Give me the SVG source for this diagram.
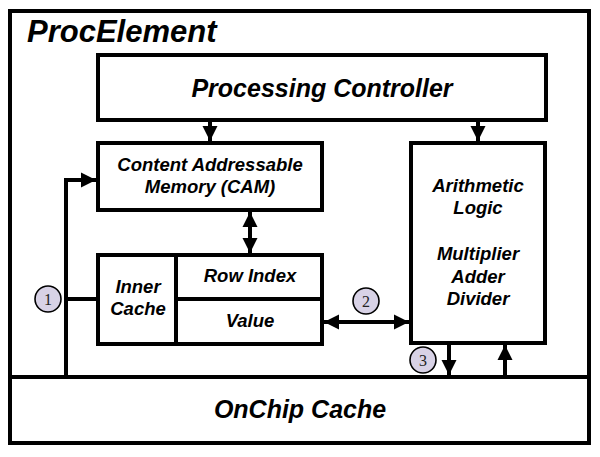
<svg xmlns="http://www.w3.org/2000/svg" width="600" height="457" viewBox="0 0 600 457">
<style>
.box{fill:#fff;stroke:#000;stroke-width:4;stroke-linejoin:miter}
.ln{fill:none;stroke:#000;stroke-width:4}
.t{font-family:"Liberation Sans",Arial,sans-serif;font-weight:bold;font-style:italic;fill:#000;text-anchor:middle}
.s{font-size:18.5px}
.b{font-size:25px}
.c{fill:#d8d2e6;stroke:#000;stroke-width:1.6}
.n{font-family:"Liberation Serif","Times New Roman",serif;font-size:16px;fill:#222;text-anchor:middle}
</style>
<defs>
<marker id="ah" viewBox="0 0 10 10" refX="10" refY="5" markerWidth="3.8" markerHeight="3.8" orient="auto-start-reverse" markerUnits="strokeWidth">
<path d="M0,0 L10,5 L0,10 Z" fill="#000"/>
</marker>
</defs>
<rect width="600" height="457" fill="#fff"/>
<g id="procelement">
<rect class="box" x="10" y="11" width="579" height="432"/>
<text class="t" x="27" y="42" font-size="31" style="text-anchor:start">ProcElement</text>
</g>
<g id="onchip-cache">
<rect class="box" x="10" y="377" width="579" height="66"/>
<text class="t b" x="300" y="418">OnChip Cache</text>
</g>
<g id="processing-controller">
<rect class="box" x="98" y="55" width="448" height="65"/>
<text class="t b" x="322" y="97">Processing Controller</text>
</g>
<g id="cam">
<rect class="box" x="98" y="143" width="224" height="67"/>
<text class="t s" x="210" y="171">Content Addressable</text>
<text class="t s" x="210" y="193">Memory (CAM)</text>
</g>
<g id="alu">
<rect class="box" x="411" y="143" width="134" height="200"/>
<text class="t s" x="478" y="192">Arithmetic</text>
<text class="t s" x="478" y="214">Logic</text>
<text class="t s" x="478" y="260">Multiplier</text>
<text class="t s" x="478" y="283">Adder</text>
<text class="t s" x="478" y="305">Divider</text>
</g>
<g id="inner-cache">
<rect class="box" x="98" y="255" width="224" height="89"/>
<line class="ln" x1="176" y1="255" x2="176" y2="344"/>
<line class="ln" x1="176" y1="299" x2="322" y2="299"/>
<text class="t s" x="138" y="293">Inner</text>
<text class="t s" x="138" y="315">Cache</text>
<text class="t s" x="250" y="282">Row Index</text>
<text class="t s" x="250" y="327">Value</text>
</g>
<g id="connectors">
<line class="ln" x1="210" y1="120" x2="210" y2="141" marker-end="url(#ah)"/>
<line class="ln" x1="478" y1="120" x2="478" y2="141" marker-end="url(#ah)"/>
<line class="ln" x1="250" y1="212" x2="250" y2="253" marker-start="url(#ah)" marker-end="url(#ah)"/>
<polyline class="ln" points="66,377 66,180 96,180" marker-end="url(#ah)"/>
<line class="ln" x1="66" y1="299" x2="98" y2="299"/>
<line class="ln" x1="324" y1="322" x2="409" y2="322" marker-start="url(#ah)" marker-end="url(#ah)"/>
<line class="ln" x1="449" y1="343" x2="449" y2="375" marker-end="url(#ah)"/>
<line class="ln" x1="505" y1="377" x2="505" y2="345" marker-end="url(#ah)"/>
</g>
<g id="badge-1"><circle class="c" cx="48" cy="299" r="13"/><text class="n" x="48" y="304.5">1</text></g>
<g id="badge-2"><circle class="c" cx="366" cy="301" r="13"/><text class="n" x="366" y="306.5">2</text></g>
<g id="badge-3"><circle class="c" cx="423" cy="360" r="13"/><text class="n" x="423" y="365.5">3</text></g>
</svg>
